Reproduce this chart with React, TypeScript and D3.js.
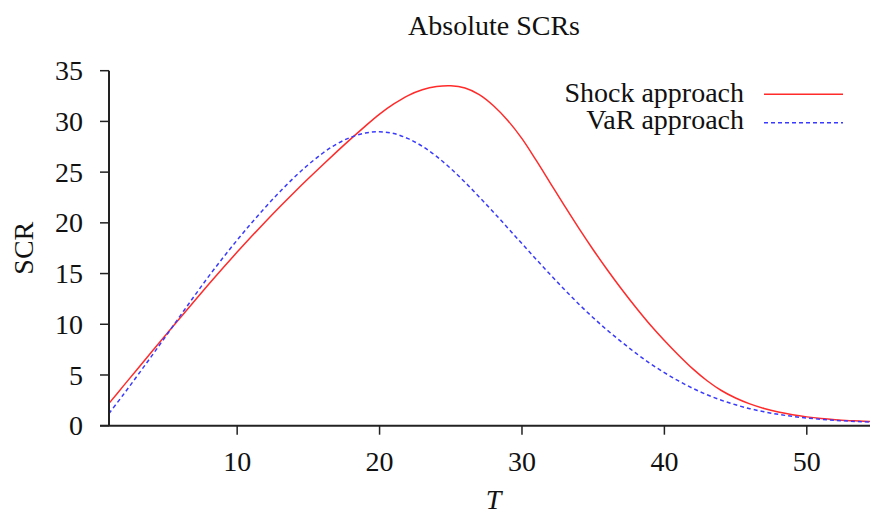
import React from "react";
import * as d3 from "d3";

const T_VALUES = [
  1, 2, 3, 4, 5, 6, 7, 8, 9, 10, 11, 12, 13, 14, 15, 16, 17, 18, 19, 20,
  21, 22, 23, 24, 25, 26, 27, 28, 29, 30, 31, 32, 33, 34, 35, 36, 37, 38, 39, 40,
  41, 42, 43, 44, 45, 46, 47, 48, 49, 50, 51, 52, 53, 54, 55,
];

const SHOCK = [
  2.2, 3.9, 5.6, 7.29, 8.97, 10.64, 12.3, 13.94, 15.55, 17.12, 18.65, 20.14, 21.59, 23.0, 24.37, 25.71, 27.02, 28.3, 29.54, 30.72,
  31.72, 32.55, 33.12, 33.44, 33.52, 33.3, 32.65, 31.55, 30.1, 28.3, 26.15, 23.9, 21.65, 19.45, 17.35, 15.35, 13.45, 11.65, 9.95, 8.4,
  6.95, 5.6, 4.43, 3.47, 2.73, 2.15, 1.7, 1.35, 1.08, 0.87, 0.71, 0.59, 0.5, 0.43, 0.38,
];

const VAR = [
  1.2, 3.05, 4.95, 6.88, 8.85, 10.83, 12.8, 14.72, 16.55, 18.3, 19.97, 21.57, 23.07, 24.47, 25.74, 26.86, 27.78, 28.45, 28.85, 28.98,
  28.8, 28.3, 27.55, 26.55, 25.35, 24.0, 22.55, 21.05, 19.5, 17.95, 16.4, 14.88, 13.4, 11.98, 10.65, 9.4, 8.25, 7.15, 6.13, 5.23,
  4.41, 3.68, 3.05, 2.51, 2.06, 1.68, 1.37, 1.12, 0.92, 0.76, 0.63, 0.53, 0.45, 0.39, 0.34,
];

const X_TICKS = [10, 20, 30, 40, 50];
const Y_TICKS = [0, 5, 10, 15, 20, 25, 30, 35];

const SERIES_NAMES = ["Shock approach", "VaR approach"];
const TITLE = "Absolute SCRs";
const X_LABEL = "T";
const Y_LABEL = "SCR";

export default function App() {
  const W = 870;
  const H = 514;
  const left = 109;
  const right = 878;
  const top = 70.7;
  const bottom = 425.7;
  const font = "'Liberation Serif', 'Times New Roman', serif";
  const fs = 28;

  const x = d3.scaleLinear().domain([1, 55]).range([left, right]);
  const y = d3.scaleLinear().domain([0, 35]).range([bottom, top]);

  const mk = (vals: number[]) =>
    d3
      .line<number>()
      .x((_, i) => x(T_VALUES[i]))
      .y((d) => y(d))
      .curve(d3.curveCatmullRom.alpha(0.5))(vals) || "";

  const shockPath = mk(SHOCK);
  const varPath = mk(VAR);

  const red = "#ff2a2a";
  const blue = "#3a3aff";
  const axisColor = "#222";

  return (
    <svg
      width={W}
      height={H}
      style={{ position: "absolute", left: 0, top: 0, background: "#fff" }}
      fontFamily={font}
    >
      <rect x={0} y={0} width={W} height={H} fill="#fff" />
      <text x={494} y={35} textAnchor="middle" fontSize={fs} fill="#111">
        {TITLE}
      </text>

      <path d={shockPath} fill="none" stroke={red} strokeWidth={1.5} />
      <path d={varPath} fill="none" stroke={blue} strokeWidth={1.5} strokeDasharray="4,3" />

      <line x1={left} x2={left} y1={top} y2={bottom} stroke={axisColor} strokeWidth={2} />
      {Y_TICKS.map((t) => (
        <g key={"y" + t}>
          <line x1={left - 9} x2={left} y1={y(t)} y2={y(t)} stroke={axisColor} strokeWidth={1.5} />
          <text x={83} y={y(t)} dy="0.34em" textAnchor="end" fontSize={fs} fill="#111">
            {t}
          </text>
        </g>
      ))}

      <line x1={left - 9} x2={right} y1={bottom} y2={bottom} stroke={axisColor} strokeWidth={2} />
      {X_TICKS.map((t) => (
        <g key={"x" + t}>
          <line x1={x(t)} x2={x(t)} y1={bottom} y2={bottom + 9} stroke={axisColor} strokeWidth={1.5} />
          <text x={x(t)} y={471} textAnchor="middle" fontSize={fs} fill="#111">
            {t}
          </text>
        </g>
      ))}

      <text x={(left + right) / 2} y={509} textAnchor="middle" fontSize={fs} fontStyle="italic" fill="#111">
        {X_LABEL}
      </text>
      <text
        transform={`translate(33, ${(top + bottom) / 2}) rotate(-90)`}
        textAnchor="middle"
        fontSize={fs}
        fill="#111"
      >
        {Y_LABEL}
      </text>

      <text x={744} y={102} textAnchor="end" fontSize={fs} fill="#111">
        {SERIES_NAMES[0]}
      </text>
      <line x1={764} x2={843} y1={94.3} y2={94.3} stroke={red} strokeWidth={1.5} />
      <text x={744} y={129.3} textAnchor="end" fontSize={fs} fill="#111">
        {SERIES_NAMES[1]}
      </text>
      <line x1={764} x2={843} y1={122.7} y2={122.7} stroke={blue} strokeWidth={1.5} strokeDasharray="4,3" />
    </svg>
  );
}
